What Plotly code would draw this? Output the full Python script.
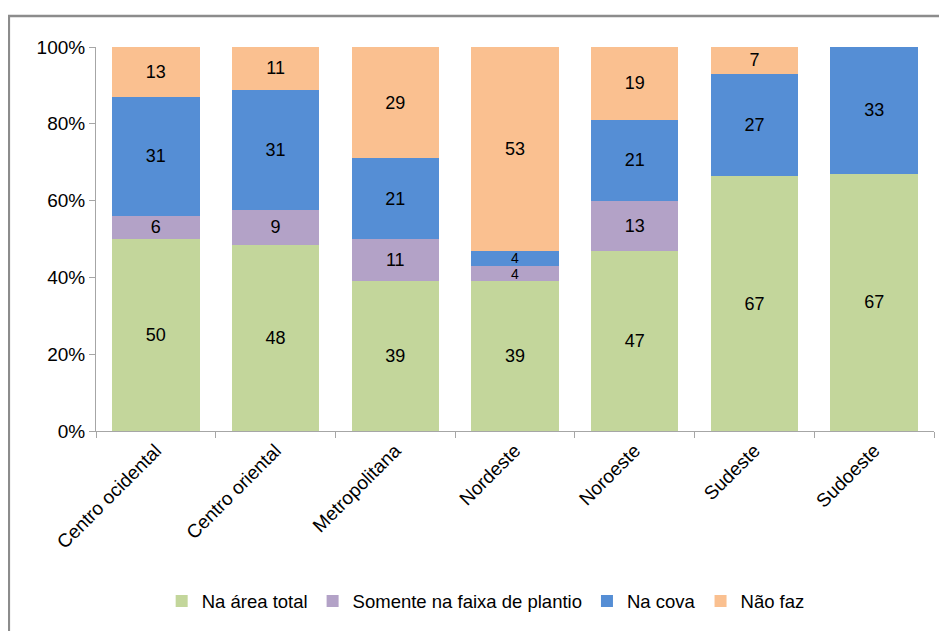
import plotly.graph_objects as go

categories = ["Centro ocidental", "Centro oriental", "Metropolitana", "Nordeste",
              "Noroeste", "Sudeste", "Sudoeste"]
na_area_total = [50, 48, 39, 39, 47, 67, 67]
somente_faixa = [6, 9, 11, 4, 13, 0, 0]
na_cova = [31, 31, 21, 4, 21, 27, 33]
nao_faz = [13, 11, 29, 53, 19, 7, 0]

series_names = ["Na área total", "Somente na faixa de plantio", "Na cova", "Não faz"]
series_values = [na_area_total, somente_faixa, na_cova, nao_faz]
colors = ["#C3D69B", "#B3A2C7", "#558ED5", "#FAC090"]

FONT = "Liberation Sans, Arial, sans-serif"

fig = go.Figure()
for name, vals, col in zip(series_names, series_values, colors):
    fig.add_trace(go.Bar(
        x=categories, y=vals, name=name,
        marker=dict(color=col, line=dict(width=0)),
        text=[str(v) if v else "" for v in vals],
        textposition="inside", insidetextanchor="middle",
        textangle=0, constraintext="none",
        textfont=dict(family=FONT, size=[18 if v >= 5 else 14 for v in vals], color="black"),
        hoverinfo="skip",
    ))

fig.update_layout(
    barmode="stack", barnorm="percent", bargap=0.27,
    width=939, height=623,
    margin=dict(l=88, r=13, t=39, b=199),
    paper_bgcolor="white", plot_bgcolor="white",
    font=dict(family=FONT, size=18, color="black"),
    showlegend=True,
    legend=dict(orientation="h", x=0.465, xanchor="center", y=-0.44, yanchor="middle",
                font=dict(size=18.5), traceorder="normal", itemwidth=30,
                bgcolor="rgba(0,0,0,0)"),
    shapes=[dict(type="rect", xref="paper", yref="paper",
                 x0=-0.104, x1=1.2, y0=-0.8, y1=1.081,
                 line=dict(color="#8C8C8C", width=2.5), fillcolor="rgba(0,0,0,0)",
                 layer="below")],
)
fig.update_yaxes(range=[0, 100], tickvals=[0, 20, 40, 60, 80, 100],
                 ticktext=["0%", "20%", "40%", "60%", "80%", "100%"],
                 showgrid=False, showline=True, linecolor="#A6A6A6", linewidth=1,
                 ticks="outside", ticklen=6, tickcolor="#A6A6A6",
                 tickfont=dict(size=19), zeroline=False)
fig.update_xaxes(showgrid=False, showline=True, linecolor="#A6A6A6", linewidth=1,
                 ticks="outside", ticklen=6, tickcolor="#A6A6A6", tickson="boundaries",
                 tickangle=-45, tickfont=dict(size=19))

fig.write_html("out.html")
